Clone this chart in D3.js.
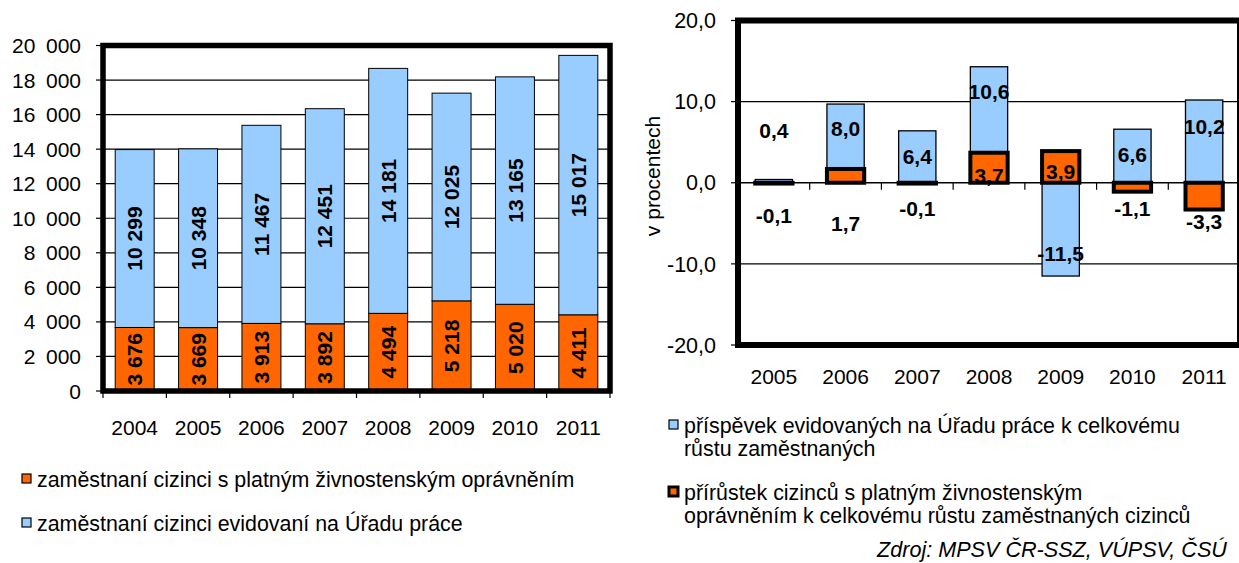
<!DOCTYPE html>
<html>
<head>
<meta charset="utf-8">
<script src="https://cdn.jsdelivr.net/npm/d3@7"></script>
<style>
  body { margin: 0; background: #fff; }
  svg { display: block; font-family: "Liberation Sans", Arial, sans-serif; }
</style>
</head>
<body>
<script>
// left chart - counts of employed foreigners
const years1 = ['2004', '2005', '2006', '2007', '2008', '2009', '2010', '2011'];
const tradeCounts = [3676, 3669, 3913, 3892, 4494, 5218, 5020, 4411];
const officeCounts = [10299, 10348, 11467, 12451, 14181, 12025, 13165, 15017];
const countTicks = [0, 2000, 4000, 6000, 8000, 10000, 12000, 14000, 16000, 18000, 20000];

// right chart - contributions to growth, in percent
const years2 = ['2005', '2006', '2007', '2008', '2009', '2010', '2011'];
const officePct = [0.4, 8.0, 6.4, 10.6, -11.5, 6.6, 10.2];
const tradePct = [-0.1, 1.7, -0.1, 3.7, 3.9, -1.1, -3.3];
const pctTicks = [-20, -10, 0, 10, 20];

// where the labels sit in the right chart (value units), as placed in the original
const officeLabelAt = [6.5, 6.7, 3.2, 11.2, -8.7, 3.5, 7.0];
const tradeLabelAt = [-4.0, -5.0, -3.15, 0.95, 1.36, -3.15, -4.8];

const ORANGE = '#FF6600', BLUE = '#99CCFF';
const [W, H] = [1239, 563];

const loc = d3.formatLocale({decimal: ',', thousands: '\u00a0', grouping: [3], currency: ['', ''], minus: '-'});
const fmtInt = loc.format(',d');
const fmtPct = loc.format('.1f');
// axis labels use a wider gap between thousands
const fmtAxis = d => fmtInt(d).replace('\u00a0', '\u2002');

const svg = d3.select('body').append('svg')
  .attr('width', W)
  .attr('height', H);

//----- left chart
const L = {left: 103, right: 610, top: 45.5, bottom: 391};
const x1 = d3.scaleBand().domain(years1)
  .range([L.left, L.right])
  .paddingInner(0.385)
  .paddingOuter(0.1925);
const y1 = d3.scaleLinear().domain([0, 20000]).range([L.bottom, L.top]);

const rows1 = years1.map((y, i) => ({year: y, trade: tradeCounts[i], office: officeCounts[i]}));
const stack1 = d3.stack().keys(['trade', 'office'])(rows1);

const g1 = svg.append('g');

// gridlines
g1.append('g').selectAll('line')
  .data(countTicks.filter(t => t > 0 && t < 20000))
  .join('line')
  .attr('x1', L.left).attr('x2', L.right)
  .attr('y1', d => y1(d)).attr('y2', d => y1(d))
  .attr('stroke', '#000').attr('stroke-width', 1.2);

// bars
stack1.forEach(layer => {
  g1.append('g').selectAll('rect')
    .data(layer)
    .join('rect')
    .attr('x', d => x1(d.data.year))
    .attr('y', d => y1(d[1]))
    .attr('width', x1.bandwidth())
    .attr('height', d => y1(d[0]) - y1(d[1]))
    .attr('fill', layer.key === 'trade' ? ORANGE : BLUE)
    .attr('stroke', '#000')
    .attr('stroke-width', 1);
});

// rotated value labels
stack1.forEach(layer => {
  g1.append('g').selectAll('text')
    .data(layer)
    .join('text')
    .attr('transform', d => `translate(${x1(d.data.year) + x1.bandwidth() / 2},${y1((d[0] + d[1]) / 2)}) rotate(-90)`)
    .attr('text-anchor', 'middle')
    .attr('dy', '0.36em')
    .attr('font-size', '21px')
    .attr('font-weight', 'bold')
    .text(d => fmtInt(d.data[layer.key]));
});

// y axis ticks and labels
g1.append('g').selectAll('line')
  .data(countTicks)
  .join('line')
  .attr('x1', L.left - 7).attr('x2', L.left)
  .attr('y1', d => y1(d)).attr('y2', d => y1(d))
  .attr('stroke', '#000').attr('stroke-width', 1.2);
g1.append('g').selectAll('text')
  .data(countTicks)
  .join('text')
  .attr('x', 81)
  .attr('y', d => y1(d))
  .attr('dy', '0.36em')
  .attr('text-anchor', 'end')
  .attr('font-size', '21px')
  .text(d => fmtAxis(d));

// x ticks at category boundaries
const step1 = x1.step();
g1.append('g').selectAll('line')
  .data(d3.range(years1.length + 1))
  .join('line')
  .attr('x1', i => L.left + i * step1).attr('x2', i => L.left + i * step1)
  .attr('y1', L.bottom).attr('y2', L.bottom + 7)
  .attr('stroke', '#000').attr('stroke-width', 1.2);
g1.append('g').selectAll('text')
  .data(years1)
  .join('text')
  .attr('x', d => x1(d) + x1.bandwidth() / 2)
  .attr('y', 435)
  .attr('text-anchor', 'middle')
  .attr('font-size', '21px')
  .text(d => d);

// frame
g1.append('rect')
  .attr('x', L.left).attr('y', L.top)
  .attr('width', L.right - L.left).attr('height', L.bottom - L.top)
  .attr('fill', 'none').attr('stroke', '#000').attr('stroke-width', 5.5);

// legend
const leg1 = [
  {label: 'zaměstnaní cizinci s platným živnostenským oprávněním', color: ORANGE, y: 487},
  {label: 'zaměstnaní cizinci evidovaní na Úřadu práce', color: BLUE, y: 531}
];
leg1.forEach(d => {
  g1.append('rect')
    .attr('x', 22).attr('y', d.y - 13)
    .attr('width', 9).attr('height', 9)
    .attr('fill', d.color).attr('stroke', '#000').attr('stroke-width', 1.2);
  g1.append('text')
    .attr('x', 37).attr('y', d.y)
    .attr('font-size', '21.4px')
    .text(d.label);
});

//----- right chart
const R = {left: 738, right: 1240, top: 20.5, bottom: 345};
const x2 = d3.scaleBand().domain(years2)
  .range([R.left, R.right])
  .paddingInner(0.48)
  .paddingOuter(0.24);
const y2 = d3.scaleLinear().domain([-20, 20]).range([R.bottom, R.top]);

const rows2 = years2.map((y, i) => ({year: y, trade: tradePct[i], office: officePct[i]}));
const stack2 = d3.stack().keys(['trade', 'office']).offset(d3.stackOffsetDiverging)(rows2);

const g2 = svg.append('g');

g2.append('g').selectAll('line')
  .data([-10, 10])
  .join('line')
  .attr('x1', R.left).attr('x2', R.right)
  .attr('y1', d => y2(d)).attr('y2', d => y2(d))
  .attr('stroke', '#000').attr('stroke-width', 1.2);

// blue first, then orange with its heavy border on top
[stack2[1], stack2[0]].forEach(layer => {
  const isTrade = layer.key === 'trade';
  g2.append('g').selectAll('rect')
    .data(layer)
    .join('rect')
    .attr('x', d => x2(d.data.year))
    .attr('y', d => y2(Math.max(d[0], d[1])))
    .attr('width', x2.bandwidth())
    .attr('height', d => Math.abs(y2(d[0]) - y2(d[1])))
    .attr('fill', isTrade ? ORANGE : BLUE)
    .attr('stroke', '#000')
    .attr('stroke-width', isTrade ? 4 : 1.3);
});

// zero line with category ticks
g2.append('line')
  .attr('x1', R.left).attr('x2', R.right)
  .attr('y1', y2(0)).attr('y2', y2(0))
  .attr('stroke', '#000').attr('stroke-width', 1.5);
const step2 = x2.step();
g2.append('g').selectAll('line')
  .data(d3.range(1, years2.length))
  .join('line')
  .attr('x1', i => R.left + i * step2).attr('x2', i => R.left + i * step2)
  .attr('y1', y2(0)).attr('y2', y2(0) + 7)
  .attr('stroke', '#000').attr('stroke-width', 1.2);

// value labels
const pctLabels = [
  ...years2.map((y, i) => ({year: y, v: officePct[i], at: officeLabelAt[i]})),
  ...years2.map((y, i) => ({year: y, v: tradePct[i], at: tradeLabelAt[i]}))
];
g2.append('g').selectAll('text')
  .data(pctLabels)
  .join('text')
  .attr('x', d => x2(d.year) + x2.bandwidth() / 2)
  .attr('y', d => y2(d.at))
  .attr('dy', '0.36em')
  .attr('text-anchor', 'middle')
  .attr('font-size', '21px')
  .attr('font-weight', 'bold')
  .text(d => fmtPct(d.v));

// y axis
g2.append('g').selectAll('line')
  .data(pctTicks)
  .join('line')
  .attr('x1', R.left - 7).attr('x2', R.left)
  .attr('y1', d => y2(d)).attr('y2', d => y2(d))
  .attr('stroke', '#000').attr('stroke-width', 1.2);
g2.append('g').selectAll('text')
  .data(pctTicks)
  .join('text')
  .attr('x', 716)
  .attr('y', d => y2(d))
  .attr('dy', '0.36em')
  .attr('text-anchor', 'end')
  .attr('font-size', '21.5px')
  .text(d => fmtPct(d));

g2.append('text')
  .attr('transform', `translate(652,176) rotate(-90)`)
  .attr('text-anchor', 'middle')
  .attr('dy', '0.36em')
  .attr('font-size', '21px')
  .text('v procentech');

g2.append('g').selectAll('text')
  .data(years2)
  .join('text')
  .attr('x', d => x2(d) + x2.bandwidth() / 2)
  .attr('y', 384)
  .attr('text-anchor', 'middle')
  .attr('font-size', '21px')
  .text(d => d);

g2.append('rect')
  .attr('x', R.left).attr('y', R.top)
  .attr('width', R.right - R.left).attr('height', R.bottom - R.top)
  .attr('fill', 'none').attr('stroke', '#000').attr('stroke-width', 6);

// legend
const leg2 = [
  {lines: ['příspěvek evidovaných na Úřadu práce k celkovému', 'růstu zaměstnaných'], color: BLUE, sw: 1.2, y: 433},
  {lines: ['přírůstek cizinců s platným živnostenským', 'oprávněním k celkovému růstu zaměstnaných cizinců'], color: ORANGE, sw: 3, y: 500}
];
leg2.forEach(d => {
  g2.append('rect')
    .attr('x', 669).attr('y', d.y - 13)
    .attr('width', 9).attr('height', 9)
    .attr('fill', d.color).attr('stroke', '#000').attr('stroke-width', d.sw);
  const t = g2.append('text')
    .attr('x', 684).attr('y', d.y)
    .attr('font-size', '21.4px');
  d.lines.forEach((line, k) => {
    t.append('tspan').attr('x', 684).attr('dy', k === 0 ? 0 : 23).text(line);
  });
});

g2.append('text')
  .attr('x', 877).attr('y', 557)
  .attr('font-size', '21.6px')
  .attr('font-style', 'italic')
  .text('Zdroj: MPSV ČR-SSZ, VÚPSV, ČSÚ');
</script>
</body>
</html>
